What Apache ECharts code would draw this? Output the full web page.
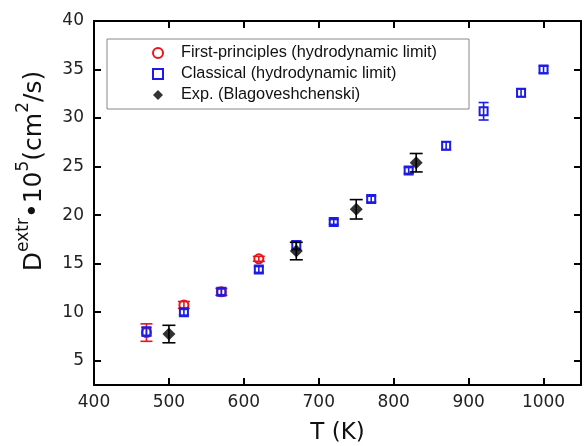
<!DOCTYPE html>
<html>
<head>
<meta charset="utf-8">
<script src="https://cdn.jsdelivr.net/npm/echarts@6/dist/echarts.min.js"></script>
<style>
html,body{margin:0;padding:0;background:#fff;}
#c{width:584px;height:446px;}
</style>
</head>
<body>
<div id="c"></div>
<script>
// ---- Data ----
const seriesNames = ['First-principles (hydrodynamic limit)', 'Classical (hydrodynamic limit)', 'Exp. (Blagoveshchenski)'];

const T_fp   = [470, 520, 570, 620];
const D_fp   = [7.9, 10.75, 12.1, 15.5];
const err_fp = [0.9, 0.35, 0.35, 0.25];

const T_cl   = [470, 520, 570, 620, 670, 720, 770, 820, 870, 920, 970, 1000];
const D_cl   = [8.0, 10.0, 12.1, 14.4, 16.9, 19.3, 21.65, 24.6, 27.15, 30.7, 32.6, 35.0];
const err_cl = [0.45, 0.3, 0.3, 0.3, 0.45, 0.25, 0.3, 0.3, 0.4, 0.9, 0.4, 0.35];

const T_exp   = [500, 670, 750, 830];
const D_exp   = [7.75, 16.3, 20.6, 25.4];
const err_exp = [0.9, 0.9, 1.0, 0.95];

const xTicks = [400, 500, 600, 700, 800, 900, 1000];
const yTicks = [5, 10, 15, 20, 25, 30, 35, 40];

// ---- Chart ----
const RED = '#e8141c', BLUE = '#1c1ce6', BLACK = '#000';
const chart = echarts.init(document.getElementById('c'), null, {renderer: 'canvas'});

function errSeries(T, D, E, color, capHalf, z) {
  return {
    type: 'custom',
    silent: true,
    z: z,
    data: T.map((t, i) => [t, D[i], E[i]]),
    encode: {x: 0, y: 1},
    renderItem: function (params, api) {
      const x = api.value(0), y = api.value(1), e = api.value(2);
      const top = api.coord([x, y + e]);
      const bot = api.coord([x, y - e]);
      const st = {stroke: color, lineWidth: 1.6};
      return {
        type: 'group',
        children: [
          {type: 'line', shape: {x1: top[0], y1: top[1], x2: bot[0], y2: bot[1]}, style: st},
          {type: 'line', shape: {x1: top[0] - capHalf, y1: top[1], x2: top[0] + capHalf, y2: top[1]}, style: st},
          {type: 'line', shape: {x1: bot[0] - capHalf, y1: bot[1], x2: bot[0] + capHalf, y2: bot[1]}, style: st}
        ]
      };
    }
  };
}

const labelFont = {fontFamily: 'DejaVu Sans', fontSize: 17, color: '#222'};
const axisLineStyle = {color: '#000', width: 2};

function xAxisDef(pos, showLabel) {
  return {
    type: 'value', position: pos, min: 400, max: 1050, interval: 100,
    axisLine: {show: true, onZero: false, lineStyle: axisLineStyle},
    axisTick: {show: true, inside: true, length: 7, lineStyle: {color: '#000', width: 2}},
    axisLabel: Object.assign({show: showLabel, margin: 9,
      formatter: v => xTicks.indexOf(v) >= 0 ? String(v) : ''}, labelFont),
    splitLine: {show: false},
    name: showLabel ? 'T (K)' : '',
    nameLocation: 'middle', nameGap: 37,
    nameTextStyle: {fontFamily: 'DejaVu Sans', fontSize: 23, color: '#111'}
  };
}
function yAxisDef(pos, showLabel) {
  return {
    type: 'value', position: pos, min: 2.5, max: 40,
    minInterval: 5, maxInterval: 5, splitNumber: 8,
    axisLine: {show: true, onZero: false, lineStyle: axisLineStyle},
    axisTick: {show: true, inside: true, length: 7, lineStyle: {color: '#000', width: 2}},
    axisLabel: Object.assign({show: showLabel, margin: 10,
      formatter: v => yTicks.indexOf(v) >= 0 ? String(v) : ''}, labelFont),
    splitLine: {show: false}
  };
}

const option = {
  animation: false,
  backgroundColor: '#fff',
  grid: {left: 94, right: 3, top: 21, bottom: 61, containLabel: false, outerBoundsMode: 'none'},
  xAxis: [xAxisDef('bottom', true), xAxisDef('top', false)],
  yAxis: [yAxisDef('left', true), yAxisDef('right', false)],
  legend: {
    data: seriesNames,
    orient: 'vertical',
    left: 107, top: 39,
    padding: [6, 32, 6, 45],
    itemWidth: 10, itemHeight: 10, itemGap: 5,
    borderColor: '#888', borderWidth: 1, borderRadius: 0,
    backgroundColor: '#fff',
    textStyle: {fontFamily: 'Liberation Sans', fontSize: 16.3, color: '#111', lineHeight: 16, padding: [0, 0, 0, 13]}
  },
  graphic: [{
    type: 'text',
    x: 33, y: 171,
    rotation: Math.PI / 2,
    style: {
      text: '{a|D}{b|extr}{a|•10}{b|5}{a|(cm}{b|2}{a|/s)}',
      align: 'center', verticalAlign: 'middle',
      fill: '#111',
      rich: {
        a: {fontFamily: 'DejaVu Sans', fontSize: 25, lineHeight: 28, verticalAlign: 'bottom', fill: '#111'},
        b: {fontFamily: 'DejaVu Sans', fontSize: 17, lineHeight: 17, padding: [0, 0, 15, 0], verticalAlign: 'bottom', fill: '#111'}
      }
    }
  }],
  series: [
    errSeries(T_fp, D_fp, err_fp, RED, 6, 2),
    {
      name: seriesNames[0], type: 'scatter', z: 3,
      symbol: 'circle', symbolSize: 9,
      itemStyle: {color: 'rgba(255,255,255,0)', borderColor: RED, borderWidth: 2, opacity: 1},
      data: T_fp.map((t, i) => [t, D_fp[i]])
    },
    errSeries(T_cl, D_cl, err_cl, BLUE, 5, 4),
    {
      name: seriesNames[1], type: 'scatter', z: 5,
      symbol: 'rect', symbolSize: 8,
      itemStyle: {color: 'rgba(255,255,255,0)', borderColor: BLUE, borderWidth: 2, opacity: 1},
      data: T_cl.map((t, i) => [t, D_cl[i]])
    },
    errSeries(T_exp, D_exp, err_exp, BLACK, 6.5, 6),
    {
      name: seriesNames[2], type: 'scatter', z: 7,
      symbol: 'diamond', symbolSize: 13,
      itemStyle: {color: BLACK},
      data: T_exp.map((t, i) => [t, D_exp[i]])
    }
  ]
};
chart.setOption(option);
</script>
</body>
</html>
